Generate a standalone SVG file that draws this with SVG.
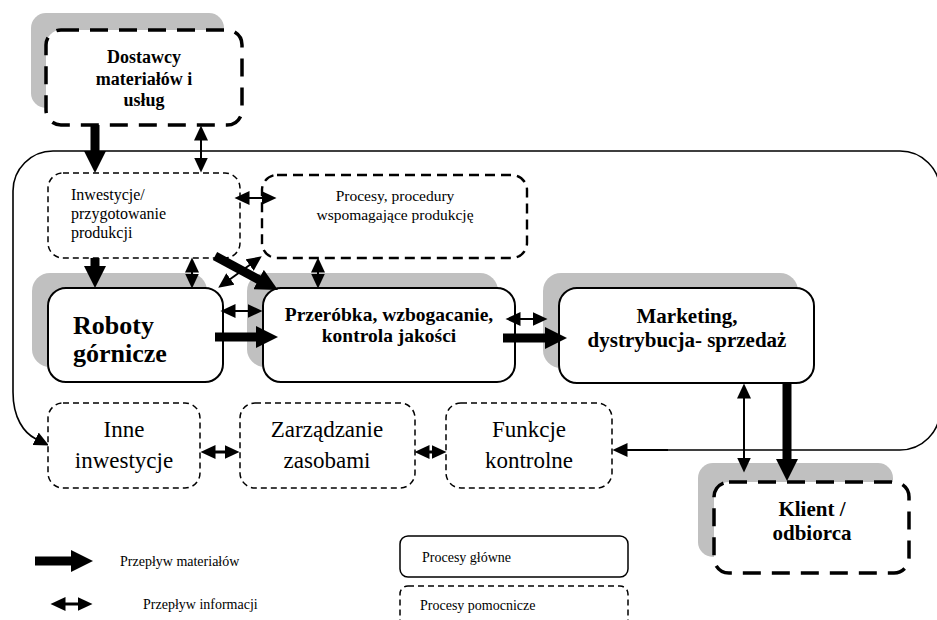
<svg xmlns="http://www.w3.org/2000/svg" width="937" height="620" viewBox="0 0 937 620" font-family="'Liberation Serif', 'DejaVu Serif', serif">
  <defs>
    <!-- arrowheads: small for information flow, large for material flow -->
    <marker id="ih" markerUnits="userSpaceOnUse" markerWidth="16" markerHeight="14" refX="0.5" refY="7" orient="auto-start-reverse">
      <path d="M0,0 L15,7 L0,14 z" fill="#000"/>
    </marker>
    <marker id="mh" markerUnits="userSpaceOnUse" markerWidth="23" markerHeight="22" refX="1" refY="11" orient="auto">
      <path d="M0,0 L22,11 L0,22 z" fill="#000"/>
    </marker>
    <style>
      .shadow { fill: #c0c0c0; }
      .main { fill: #fff; stroke: #000; stroke-width: 2; }
      .ext { fill: #fff; stroke: #000; stroke-width: 3.5; stroke-dasharray: 18 11; }
      .aux { fill: #fff; stroke: #000; stroke-width: 1.5; stroke-dasharray: 6 4; }
      .aux2 { fill: #fff; stroke: #000; stroke-width: 2.4; stroke-dasharray: 10 6; }
      .frame { fill: none; stroke: #000; stroke-width: 1.6; }
      .mat { stroke: #000; stroke-width: 9; fill: none; marker-end: url(#mh); }
      .info { stroke: #000; stroke-width: 2; fill: none; marker-start: url(#ih); marker-end: url(#ih); }
      .info3 { stroke: #000; stroke-width: 3; fill: none; marker-start: url(#ih); marker-end: url(#ih); }
      .one { stroke: #000; stroke-width: 2; fill: none; marker-end: url(#ih); }
      text { font-family: "Liberation Serif", "DejaVu Serif", serif; fill: #000; }
      .b { font-weight: bold; }
      .c { text-anchor: middle; }
    </style>
  </defs>

  <!-- enterprise boundary -->
  <g id="frame">
    <path class="frame" d="M668,450 H900 A40,40 0 0 0 940,410 V191 A40,40 0 0 0 900,151 H53 A40,40 0 0 0 13,191 V392 C13,418 24,433 36,439" marker-end="url(#ih)"/>
  </g>

  <!-- external parties -->
  <g id="dostawcy">
    <rect class="shadow" x="31" y="13" width="193" height="95" rx="15"/>
    <rect class="ext" x="46" y="30" width="196" height="95" rx="15"/>
    <text class="b c" x="144" y="63" font-size="18">Dostawcy</text>
    <text class="b c" x="144" y="85" font-size="18">materiałów i</text>
    <text class="b c" x="144" y="106" font-size="18">usług</text>
  </g>
  <g id="klient">
    <rect class="shadow" x="698" y="463" width="195" height="94" rx="15"/>
    <rect class="ext" x="714" y="482" width="195" height="91" rx="15"/>
    <text class="b c" x="812" y="516" font-size="21">Klient /</text>
    <text class="b c" x="812" y="540" font-size="21">odbiorca</text>
  </g>

  <!-- supporting processes -->
  <g id="inwestycje">
    <rect class="aux" x="48" y="173" width="192" height="85" rx="15"/>
    <text x="71" y="200" font-size="16">Inwestycje/</text>
    <text x="71" y="219" font-size="16">przygotowanie</text>
    <text x="71" y="238" font-size="16">produkcji</text>
  </g>
  <g id="procesy">
    <rect class="aux2" x="262" y="175" width="265" height="83" rx="15"/>
    <text class="c" x="395" y="201" font-size="15.5">Procesy, procedury</text>
    <text class="c" x="395" y="220" font-size="15.5">wspomagające produkcję</text>
  </g>

  <!-- main processes -->
  <g id="roboty">
    <rect class="shadow" x="32" y="273" width="175" height="94" rx="18"/>
    <rect class="main" x="48" y="288" width="175" height="94" rx="18"/>
    <text class="b" x="73" y="334" font-size="26">Roboty</text>
    <text class="b" x="73" y="362" font-size="26">górnicze</text>
  </g>
  <g id="przerobka">
    <rect class="shadow" x="247" y="273" width="251" height="94" rx="18"/>
    <rect class="main" x="263" y="288" width="252" height="94" rx="18"/>
    <text class="b c" x="389" y="321" font-size="19.5">Przeróbka, wzbogacanie,</text>
    <text class="b c" x="389" y="342" font-size="19.5">kontrola jakości</text>
  </g>
  <g id="marketing">
    <rect class="shadow" x="543" y="273" width="255" height="95" rx="18"/>
    <rect class="main" x="559" y="288" width="255" height="95" rx="18"/>
    <text class="b c" x="687" y="323" font-size="21">Marketing,</text>
    <text class="b c" x="687" y="347" font-size="21">dystrybucja- sprzedaż</text>
  </g>

  <!-- lower supporting functions -->
  <g id="inne">
    <rect class="aux" x="48" y="403" width="152" height="85" rx="15"/>
    <text class="c" x="124" y="437" font-size="23">Inne</text>
    <text class="c" x="124" y="468" font-size="23">inwestycje</text>
  </g>
  <g id="zarzadzanie">
    <rect class="aux" x="240" y="403" width="175" height="85" rx="15"/>
    <text class="c" x="327" y="437" font-size="23">Zarządzanie</text>
    <text class="c" x="327" y="468" font-size="23">zasobami</text>
  </g>
  <g id="funkcje">
    <rect class="aux" x="446" y="403" width="166" height="85" rx="15"/>
    <text class="c" x="529" y="437" font-size="23">Funkcje</text>
    <text class="c" x="529" y="468" font-size="23">kontrolne</text>
  </g>

  <!-- flows -->
  <g id="connectors">
    <line class="mat" x1="95" y1="125" x2="95" y2="152"/>
    <line class="info" x1="201" y1="140" x2="201" y2="158"/>
    <line class="mat" x1="95" y1="258" x2="95" y2="267"/>
    <line class="info" x1="192" y1="272" x2="192" y2="274"/>
    <line class="info" x1="249" y1="198" x2="262" y2="198"/>
    <line class="info" x1="250" y1="264.8" x2="230" y2="279.2"/>
    <line class="mat" x1="215" y1="256" x2="259.5" y2="280"/>
    <line class="info" x1="318" y1="272" x2="318" y2="274"/>
    <line class="info" x1="235" y1="311" x2="248" y2="311"/>
    <line class="mat" x1="215" y1="337" x2="257" y2="337"/>
    <line class="info" x1="520" y1="319" x2="533" y2="319"/>
    <line class="mat" x1="503" y1="338" x2="546" y2="338"/>
    <line class="info" x1="744" y1="398" x2="744" y2="458"/>
    <line class="mat" x1="787" y1="382" x2="787" y2="460"/>
    <line class="one" x1="668" y1="450" x2="627" y2="450"/>
    <line class="info3" x1="215" y1="452" x2="225" y2="452"/>
    <line class="info3" x1="429" y1="452" x2="432" y2="452"/>
  </g>

  <!-- legend -->
  <g id="legend">
    <line class="mat" x1="35" y1="561" x2="72" y2="561"/>
    <text x="120" y="566" font-size="14">Przepływ materiałów</text>
    <line class="info3" x1="65" y1="604" x2="78" y2="604"/>
    <text x="143" y="609" font-size="14">Przepływ informacji</text>
    <rect fill="#fff" stroke="#000" stroke-width="1.5" x="400" y="536" width="228" height="41" rx="8"/>
    <text x="422" y="562" font-size="14">Procesy główne</text>
    <rect class="aux" x="400" y="586" width="228" height="46" rx="8"/>
    <text x="420" y="610" font-size="14">Procesy pomocnicze</text>
  </g>
</svg>
